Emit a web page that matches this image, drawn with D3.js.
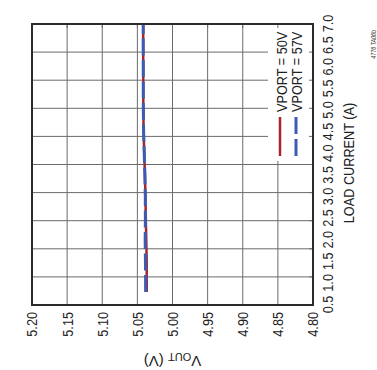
<!DOCTYPE html>
<html>
<head>
<meta charset="utf-8">
<script src="https://cdn.jsdelivr.net/npm/d3@7"></script>
<style>
  html, body { margin: 0; padding: 0; background: #fff; }
  svg { display: block; }
  text { font-family: 'Liberation Sans', Arial, sans-serif; }
</style>
</head>
<body>
<svg id="chart" width="377" height="370"></svg>
<script>
// ---- data ----
const currentTicks = [0.5, 1.0, 1.5, 2.0, 2.5, 3.0, 3.5, 4.0, 4.5, 5.0, 5.5, 6.0, 6.5, 7.0];
const voutTicks = [4.80, 4.85, 4.90, 4.95, 5.00, 5.05, 5.10, 5.15, 5.20];
const gridDivisions = 10;
const loadCurrent = [0.8, 1.5, 2.0, 2.5, 3.0, 3.5, 4.0, 4.5, 5.0, 5.5, 6.0, 6.5, 7.0];
const vout50 = [5.0367, 5.0367, 5.0373, 5.0380, 5.0385, 5.0392, 5.0402, 5.0411, 5.0415, 5.0416, 5.0416, 5.0417, 5.0417];
const vout57 = [5.0382, 5.0385, 5.0389, 5.0386, 5.0387, 5.0393, 5.0402, 5.0411, 5.0415, 5.0416, 5.0416, 5.0417, 5.0417];
const seriesNames = ["VPORT = 50V", "VPORT = 57V"];
const seriesColors = ["#a8262b", "#3c5cb4"];
const xTitle = "LOAD CURRENT (A)";
const note = "4776 TA06b";

// ---- layout (unrotated frame) ----
const SX = 0.82; // horizontal condensing of text
const svg = d3.select("#chart");
const g = svg.append("g").attr("transform", "translate(0,370) rotate(-90)");
const L = 65, R = 346, T = 32, B = 313;
const x = d3.scaleLinear().domain([0.5, 7.0]).range([L, R]);
const y = d3.scaleLinear().domain([4.80, 5.20]).range([B, T]);
const xGrid = d3.range(gridDivisions + 1).map(i => 0.5 + i * (7.0 - 0.5) / gridDivisions);

const gridColor = "#6b6b6b";
// grid
g.append("g").selectAll("line").data(xGrid).join("line")
  .attr("x1", d => x(d)).attr("x2", d => x(d)).attr("y1", T).attr("y2", B)
  .attr("stroke", gridColor).attr("stroke-width", 1);
g.append("g").selectAll("line").data(voutTicks).join("line")
  .attr("x1", L).attr("x2", R).attr("y1", d => y(d)).attr("y2", d => y(d))
  .attr("stroke", gridColor).attr("stroke-width", 1);

// legend background (covers grid)
const legX0 = 209, legY0 = 268;
g.append("rect").attr("x", legX0).attr("y", legY0).attr("width", R - legX0).attr("height", B - legY0)
  .attr("fill", "#fff");

// inner ticks on bottom and right edges
g.append("g").selectAll("line").data(xGrid).join("line")
  .attr("x1", d => x(d)).attr("x2", d => x(d)).attr("y1", B).attr("y2", B - 4)
  .attr("stroke", gridColor).attr("stroke-width", 1);
g.append("g").selectAll("line").data(voutTicks).join("line")
  .attr("x1", R).attr("x2", R - 4).attr("y1", d => y(d)).attr("y2", d => y(d))
  .attr("stroke", gridColor).attr("stroke-width", 1);

// data lines
const line = d3.line().x(d => x(d[0])).y(d => y(d[1]));
g.append("path").datum(loadCurrent.map((c, i) => [c, vout50[i]]))
  .attr("d", line).attr("fill", "none").attr("stroke", seriesColors[0]).attr("stroke-width", 2.5);
g.append("path").datum(loadCurrent.map((c, i) => [c, vout57[i]]))
  .attr("d", line).attr("fill", "none").attr("stroke", seriesColors[1]).attr("stroke-width", 3)
  .attr("stroke-dasharray", "17,4.5");

// frame
g.append("rect").attr("x", L).attr("y", T).attr("width", R - L).attr("height", B - T)
  .attr("fill", "none").attr("stroke", "#2b2b2b").attr("stroke-width", 2);

// x axis labels
const xAxis = g.append("g").attr("transform", `translate(0,${B})`)
  .call(d3.axisBottom(x).tickValues(currentTicks).tickSize(0).tickFormat(d3.format(".1f")));
xAxis.select(".domain").remove();
xAxis.selectAll("text").attr("y", 20.5).attr("dy", null).attr("transform", `scale(${SX},1)`)
  .attr("font-size", 15.5).attr("fill", "#222").attr("font-family", null);

// y axis labels
const yAxis = g.append("g").attr("transform", `translate(${L},0)`)
  .call(d3.axisLeft(y).tickValues(voutTicks).tickSize(0).tickPadding(7).tickFormat(d3.format(".2f")));
yAxis.select(".domain").remove();
yAxis.selectAll("text").attr("x", -7 / SX).attr("transform", `scale(${SX},1)`)
  .attr("font-size", 15.5).attr("fill", "#222").attr("font-family", null);

// x title
g.append("text").attr("transform", `translate(207,354) scale(${SX},1)`)
  .attr("text-anchor", "middle").attr("font-size", 15.5).attr("fill", "#222").text(xTitle);

// y title
const yt = g.append("text").attr("transform", `translate(14,${(T + B) / 2}) rotate(-90)`)
  .attr("text-anchor", "middle")
  .attr("font-size", 15).attr("fill", "#222");
yt.append("tspan").text("V");
yt.append("tspan").attr("font-size", 11).attr("dy", 3).text("OUT");
yt.append("tspan").attr("dy", -3).text(" (V)");

// legend
const legRows = [280, 296];
const legBase = [287, 302];
seriesNames.forEach((name, i) => {
  g.append("line").attr("x1", 214).attr("x2", 253).attr("y1", legRows[i]).attr("y2", legRows[i])
    .attr("stroke", seriesColors[i]).attr("stroke-width", i === 0 ? 2.5 : 3)
    .attr("stroke-dasharray", i === 0 ? null : "17,5");
  g.append("text").attr("transform", `translate(258,${legBase[i]}) scale(${SX},1)`)
    .attr("font-size", 15.5).attr("fill", "#222").text(name);
});

// note
g.append("text").attr("transform", `translate(340,376) scale(${SX},1)`)
  .attr("text-anchor", "end").attr("font-size", 6.5).attr("font-style", "italic")
  .attr("fill", "#333").text(note);
</script>
</body>
</html>
